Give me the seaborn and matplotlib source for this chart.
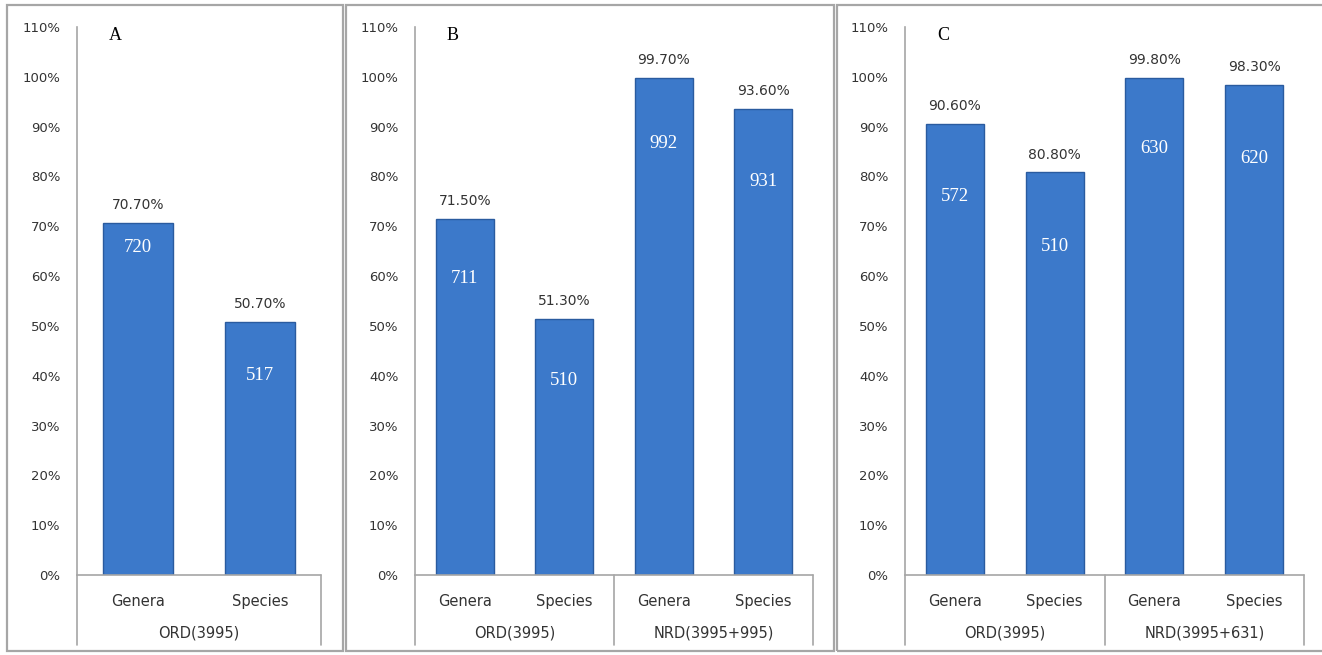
import matplotlib
matplotlib.use("Agg")
import matplotlib.pyplot as plt
import matplotlib.transforms as mtransforms
from matplotlib.patches import Rectangle
import pandas as pd
import seaborn as sns

sns.set_theme(style="white")
plt.rcParams["font.family"] = ["DejaVu Sans"]

# ---------------------------------------------------------
# data

panel_letters = ["A", "B", "C"]

taxa_a = ["Genera", "Species"]
groups_a = ["ORD(3995)"]
pct_a = [70.7, 50.7]
count_a = [720, 517]

taxa_b = ["Genera", "Species", "Genera", "Species"]
groups_b = ["ORD(3995)", "NRD(3995+995)"]
pct_b = [71.5, 51.3, 99.7, 93.6]
count_b = [711, 510, 992, 931]

taxa_c = ["Genera", "Species", "Genera", "Species"]
groups_c = ["ORD(3995)", "NRD(3995+631)"]
pct_c = [90.6, 80.8, 99.8, 98.3]
count_c = [572, 510, 630, 620]

# height (in %) where the count text sits inside each bar
count_pos_a = [65.7, 40.0]
count_pos_b = [59.6, 39.0, 86.7, 79.0]
count_pos_c = [76.0, 66.0, 85.7, 83.7]

yticks = list(range(0, 111, 10))

# ---------------------------------------------------------

W, H = 1322, 655
BAR = "#3c79ca"
EDGE = "#2a5b9f"
GRID = "#a6a6a6"

fig = plt.figure(figsize=(W / 100, H / 100), dpi=100)


def px_box(x0, y0, x1, y1):
    return [x0 / W, 1 - y1 / H, (x1 - x0) / W, (y1 - y0) / H]


def draw_panel(rect, frame, letter, taxa, groups, pct, counts, count_pos, bw):

    # outer frame of the panel
    fig.patches.append(Rectangle(
        (frame[0] / W, 1 - frame[3] / H),
        (frame[2] - frame[0]) / W, (frame[3] - frame[1]) / H,
        transform=fig.transFigure, fill=False, edgecolor=GRID, linewidth=1.6
    ))

    ax = fig.add_axes(px_box(*rect))

    df = pd.DataFrame({
        "slot": [f"{i}" for i in range(len(taxa))],
        "pct": pct,
    })

    sns.barplot(data=df, x="slot", y="pct", color=BAR, width=bw,
                edgecolor=EDGE, linewidth=1.0, saturation=1, ax=ax)

    ax.set_ylim(0, 110)
    ax.set_xlim(-0.5, len(taxa) - 0.5)
    ax.set_yticks(yticks)
    ax.set_yticklabels([f"{t}%" for t in yticks], fontsize=9.5, color="#333333")
    ax.tick_params(axis="y", length=0, pad=12)
    ax.set_xticks(range(len(taxa)))
    ax.set_xticklabels(taxa, fontsize=10.5, color="#333333")
    ax.tick_params(axis="x", length=0, pad=14)
    ax.set_xlabel("")
    ax.set_ylabel("")

    for side in ["top", "right", "bottom"]:
        ax.spines[side].set_visible(False)
    ax.spines["left"].set_color(GRID)
    ax.spines["left"].set_linewidth(1.2)

    # category axis lines below the plot
    depth = -(645 - rect[3]) / (rect[3] - rect[1])
    ax.plot([0, 1], [0, 0], transform=ax.transAxes, color=GRID,
            linewidth=1.2, clip_on=False)
    n_grp = len(groups)
    per = len(taxa) // n_grp
    for k in range(n_grp + 1):
        xk = k / n_grp
        ax.plot([xk, xk], [0, depth], transform=ax.transAxes, color=GRID,
                linewidth=1.2, clip_on=False)

    trans = mtransforms.blended_transform_factory(ax.transData, ax.transAxes)
    for k, g in enumerate(groups):
        xc = k * per + (per - 1) / 2
        ax.text(xc, depth * 0.83, g, transform=trans, ha="center", va="center",
                fontsize=10.5, color="#333333")

    # value labels
    for i, (p, c, cp) in enumerate(zip(pct, counts, count_pos)):
        ax.text(i, p + 2.2, f"{p:.2f}%", ha="center", va="bottom",
                fontsize=10, color="#333333")
        ax.text(i, cp, str(c), ha="center", va="center", fontsize=13.5,
                color="white", family=["Liberation Serif", "DejaVu Serif"])

    # panel letter, ~38 px right of the value axis
    letter_tr = ax.transAxes + mtransforms.ScaledTranslation(
        0.38, 0, fig.dpi_scale_trans)
    ax.text(0, 0.985, letter, transform=letter_tr, ha="center", va="center",
            fontsize=13, color="black",
            family=["Liberation Serif", "DejaVu Serif"])

    return ax


draw_panel((77, 27, 321, 575), (7, 5, 343, 651), panel_letters[0],
           taxa_a, groups_a, pct_a, count_a, count_pos_a, 0.57)
draw_panel((415, 27, 813, 575), (346, 5, 834, 651), panel_letters[1],
           taxa_b, groups_b, pct_b, count_b, count_pos_b, 0.58)
draw_panel((905, 27, 1304, 575), (837, 5, 1330, 651), panel_letters[2],
           taxa_c, groups_c, pct_c, count_c, count_pos_c, 0.58)

fig.savefig("out.png", dpi=100)
